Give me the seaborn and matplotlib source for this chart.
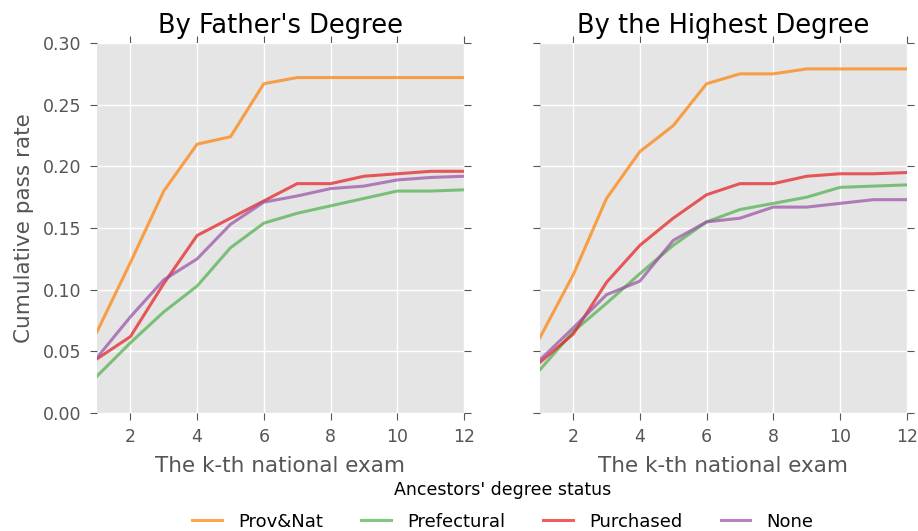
import numpy as np
import pandas as pd
import matplotlib
matplotlib.use("Agg")
import matplotlib.pyplot as plt
import seaborn as sns

exams = [1, 2, 3, 4, 5, 6, 7, 8, 9, 10, 11, 12]
groups = ["Prov&Nat", "Prefectural", "Purchased", "None"]

father_provnat = [0.066, 0.122, 0.180, 0.218, 0.224, 0.267, 0.272, 0.272, 0.272, 0.272, 0.272, 0.272]
father_pref = [0.030, 0.057, 0.082, 0.103, 0.134, 0.154, 0.162, 0.168, 0.174, 0.180, 0.180, 0.181]
father_purch = [0.044, 0.062, 0.105, 0.144, 0.158, 0.172, 0.186, 0.186, 0.192, 0.194, 0.196, 0.196]
father_none = [0.045, 0.078, 0.108, 0.125, 0.153, 0.171, 0.176, 0.182, 0.184, 0.189, 0.191, 0.192]

high_provnat = [0.061, 0.112, 0.174, 0.212, 0.233, 0.267, 0.275, 0.275, 0.279, 0.279, 0.279, 0.279]
high_pref = [0.035, 0.066, 0.089, 0.113, 0.136, 0.155, 0.165, 0.170, 0.175, 0.183, 0.184, 0.185]
high_purch = [0.041, 0.064, 0.106, 0.136, 0.158, 0.177, 0.186, 0.186, 0.192, 0.194, 0.194, 0.195]
high_none = [0.043, 0.069, 0.096, 0.107, 0.140, 0.155, 0.158, 0.167, 0.167, 0.170, 0.173, 0.173]

titles = ["By Father's Degree", "By the Highest Degree"]

def long_df(series):
    rows = []
    for g, vals in zip(groups, series):
        for k, v in zip(exams, vals):
            rows.append({"exam": k, "rate": v, "group": g})
    return pd.DataFrame(rows)

dfs = [long_df([father_provnat, father_pref, father_purch, father_none]),
       long_df([high_provnat, high_pref, high_purch, high_none])]

palette = {"Prov&Nat": "#ff7f00", "Prefectural": "#4daf4a",
           "Purchased": "#e41a1c", "None": "#984ea3"}

plt.rcParams['font.family'] = ['DejaVu Sans']
fig = plt.figure(figsize=(9.18, 5.31), dpi=100)
ax1 = fig.add_axes([0.1057, 0.222, 0.3997, 0.697])
ax2 = fig.add_axes([0.588, 0.222, 0.3997, 0.697], sharey=ax1)

for ax, df, title in zip([ax1, ax2], dfs, titles):
    ax.set_facecolor("#e5e5e5")
    ax.grid(True, color="white", linewidth=1.0)
    ax.set_axisbelow(True)
    sns.lineplot(data=df, x="exam", y="rate", hue="group", hue_order=groups,
                 palette=palette, linewidth=2.2, alpha=0.7, ax=ax, legend=(ax is ax1))
    for s in ax.spines.values():
        s.set_visible(False)
    ax.set_xlim(1, 12)
    ax.set_ylim(0, 0.30)
    ax.set_xticks([2, 4, 6, 8, 10, 12])
    ax.set_yticks(np.arange(0, 0.31, 0.05))
    ax.tick_params(axis='both', which='both', direction='out', length=5, pad=6,
                   color='#555555', labelcolor='#555555', labelsize=12.5,
                   top=True, right=True)
    ax.set_title(title, fontsize=18.5, color='black', pad=7)
    ax.set_xlabel("The k-th national exam", fontsize=15.5, color='#555555', labelpad=7)

ax1.yaxis.set_major_formatter(matplotlib.ticker.FormatStrFormatter('%.2f'))
ax1.set_ylabel("Cumulative pass rate", fontsize=15.5, color='#555555', labelpad=7)
ax2.set_ylabel("")
plt.setp(ax2.get_yticklabels(), visible=False)

handles, labels = ax1.get_legend_handles_labels()
ax1.get_legend().remove()
leg = fig.legend(handles, labels, loc='lower center', ncol=4, frameon=False,
                 title="Ancestors' degree status", fontsize=13, title_fontsize=12.5,
                 bbox_to_anchor=(0.548, -0.03), columnspacing=2.1,
                 handlelength=1.65, handletextpad=0.9, labelspacing=0.75)
for t in leg.get_texts():
    t.set_color('black')

fig.savefig("out.png", dpi=100)
